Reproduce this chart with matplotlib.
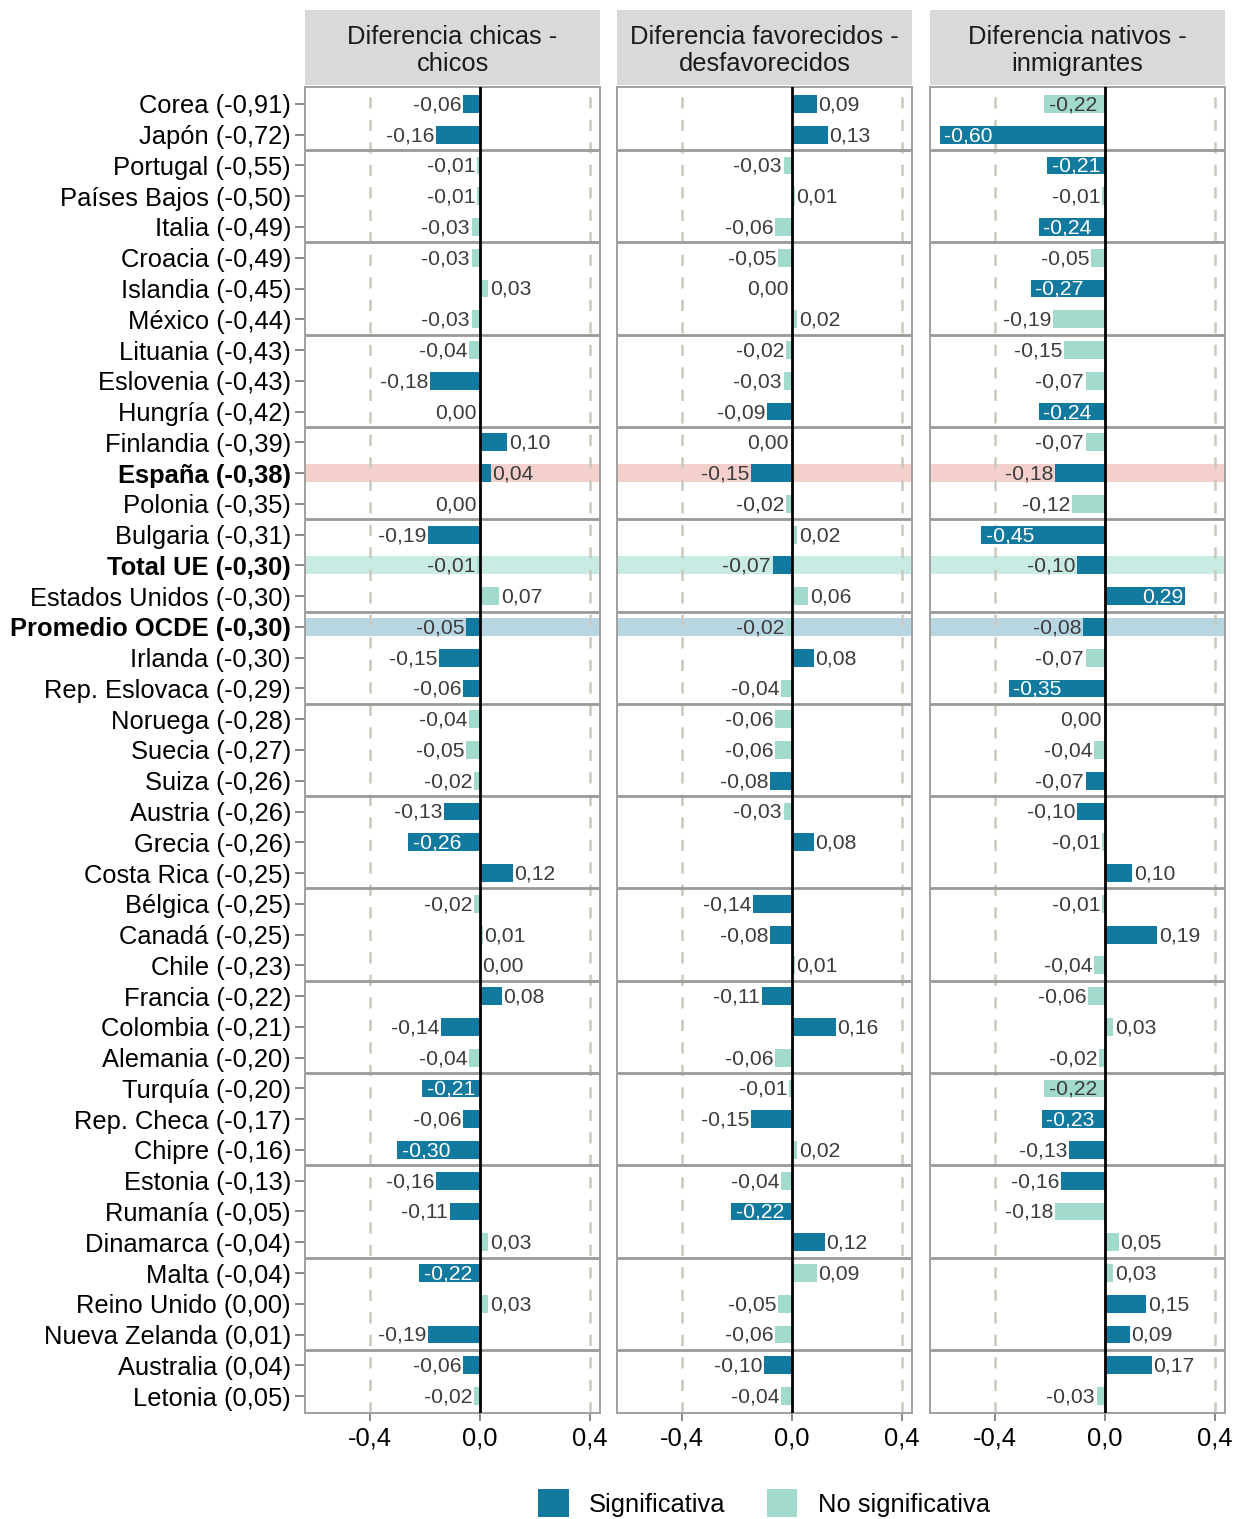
import matplotlib
matplotlib.use('Agg')
import matplotlib.pyplot as plt
from matplotlib.patches import Patch
import numpy as np

plt.rcParams['font.family'] = ['Liberation Sans', 'DejaVu Sans']

# Data
countries = ['Corea (-0,91)', 'Japón (-0,72)', 'Portugal (-0,55)', 'Países Bajos (-0,50)',
             'Italia (-0,49)', 'Croacia (-0,49)', 'Islandia (-0,45)', 'México (-0,44)',
             'Lituania (-0,43)', 'Eslovenia (-0,43)', 'Hungría (-0,42)', 'Finlandia (-0,39)',
             'España (-0,38)', 'Polonia (-0,35)', 'Bulgaria (-0,31)', 'Total UE (-0,30)',
             'Estados Unidos (-0,30)', 'Promedio OCDE (-0,30)', 'Irlanda (-0,30)',
             'Rep. Eslovaca (-0,29)', 'Noruega (-0,28)', 'Suecia (-0,27)', 'Suiza (-0,26)',
             'Austria (-0,26)', 'Grecia (-0,26)', 'Costa Rica (-0,25)', 'Bélgica (-0,25)',
             'Canadá (-0,25)', 'Chile (-0,23)', 'Francia (-0,22)', 'Colombia (-0,21)',
             'Alemania (-0,20)', 'Turquía (-0,20)', 'Rep. Checa (-0,17)', 'Chipre (-0,16)',
             'Estonia (-0,13)', 'Rumanía (-0,05)', 'Dinamarca (-0,04)', 'Malta (-0,04)',
             'Reino Unido (0,00)', 'Nueva Zelanda (0,01)', 'Australia (0,04)', 'Letonia (0,05)']

bold_rows = ['España (-0,38)', 'Total UE (-0,30)', 'Promedio OCDE (-0,30)']
highlight = {'España (-0,38)': '#F4D0CC',
             'Total UE (-0,30)': '#C8ECE4',
             'Promedio OCDE (-0,30)': '#B7D6E1'}

titles = ['Diferencia chicas -\nchicos',
          'Diferencia favorecidos -\ndesfavorecidos',
          'Diferencia nativos -\ninmigrantes']

gender = [-0.06, -0.16, -0.01, -0.01, -0.03, -0.03, 0.03, -0.03, -0.04, -0.18, -0.004,
          0.10, 0.04, -0.004, -0.19, -0.01, 0.07, -0.05, -0.15, -0.06, -0.04, -0.05,
          -0.02, -0.13, -0.26, 0.12, -0.02, 0.01, 0.004, 0.08, -0.14, -0.04, -0.21,
          -0.06, -0.30, -0.16, -0.11, 0.03, -0.22, 0.03, -0.19, -0.06, -0.02]
gender_sig = [1, 1, 0, 0, 0, 0, 0, 0, 0, 1, 0, 1, 1, 0, 1, 0, 0, 1, 1, 1, 0, 0, 0, 1, 1,
              1, 0, 0, 0, 1, 1, 0, 1, 1, 1, 1, 1, 0, 1, 0, 1, 1, 0]

ses = [0.09, 0.13, -0.03, 0.01, -0.06, -0.05, -0.004, 0.02, -0.02, -0.03, -0.09, -0.004,
       -0.15, -0.02, 0.02, -0.07, 0.06, -0.02, 0.08, -0.04, -0.06, -0.06, -0.08, -0.03,
       0.08, np.nan, -0.14, -0.08, 0.01, -0.11, 0.16, -0.06, -0.01, -0.15, 0.02, -0.04,
       -0.22, 0.12, 0.09, -0.05, -0.06, -0.10, -0.04]
ses_sig = [1, 1, 0, 0, 0, 0, 0, 0, 0, 0, 1, 0, 1, 0, 0, 1, 0, 0, 1, 0, 0, 0, 1, 0, 1, 0,
           1, 1, 0, 1, 1, 0, 0, 1, 0, 0, 1, 1, 0, 0, 0, 1, 0]

immig = [-0.22, -0.60, -0.21, -0.01, -0.24, -0.05, -0.27, -0.19, -0.15, -0.07, -0.24,
         -0.07, -0.18, -0.12, -0.45, -0.10, 0.29, -0.08, -0.07, -0.35, -0.004, -0.04,
         -0.07, -0.10, -0.01, 0.10, -0.01, 0.19, -0.04, -0.06, 0.03, -0.02, -0.22, -0.23,
         -0.13, -0.16, -0.18, 0.05, 0.03, 0.15, 0.09, 0.17, -0.03]
immig_sig = [0, 1, 1, 0, 1, 0, 1, 0, 0, 0, 1, 0, 1, 0, 1, 1, 1, 1, 0, 1, 0, 0, 1, 1, 0, 1,
             0, 1, 0, 0, 0, 0, 0, 1, 1, 1, 0, 0, 0, 1, 1, 1, 0]

panels = [(gender, gender_sig), (ses, ses_sig), (immig, immig_sig)]

col_sig = '#137A9F'
col_ns = '#A2DBCD'
txt_col = '#3C3C3C'


def fmt(v):
    s = '%.2f' % v
    if s == '-0.00':
        s = '0.00'
    return s.replace('.', ',')


W, H = 1240, 1519
fig = plt.figure(figsize=(W / 100, H / 100), dpi=100)

lefts = [305, 617, 930]
pw = 295
top, bottom = 87, 1413
n = len(countries)
y = np.arange(n)
lab_fs = 15.2

for k, (vals, sig) in enumerate(panels):
    ax = fig.add_axes([lefts[k] / W, (H - bottom) / H, pw / W, (bottom - top) / H])
    ax.set_xlim(-0.636, 0.437)
    ax.set_ylim(n - 0.45, -0.55)

    # highlighted rows
    for name, c in highlight.items():
        i = countries.index(name)
        ax.axhspan(i - 0.29, i + 0.29, color=c, zorder=0.5, lw=0)

    # grid
    for gx in [-0.4, 0.4]:
        ax.axvline(gx, color='#C9C9BC', lw=1.8, ls=(0, (4.5, 4.5)), zorder=0.8)

    # group separators
    for sep in range(2, n - 1, 3):
        ax.axhline(sep - 0.5, color='#999999', lw=2, zorder=1)

    colors = [col_sig if s else col_ns for s in sig]
    ax.barh(y, vals, height=0.58, color=colors, zorder=2)
    ax.axvline(0, color='black', lw=2, zorder=3)

    for i, (v, s) in enumerate(zip(vals, sig)):
        if np.isnan(v):
            continue
        lab = fmt(v)
        if abs(v) >= 0.195:
            c = 'white' if s else txt_col
            if v < 0:
                ax.text(v + 0.016, i + 0.03, lab, ha='left', va='center', fontsize=lab_fs,
                        color=c, zorder=4)
            else:
                ax.text(v - 0.006, i + 0.03, lab, ha='right', va='center', fontsize=lab_fs,
                        color=c, zorder=4)
        elif v < 0:
            ax.text(v - 0.006, i + 0.03, lab, ha='right', va='center', fontsize=lab_fs,
                    color=txt_col, zorder=4)
        else:
            ax.text(v + 0.006, i + 0.03, lab, ha='left', va='center', fontsize=lab_fs,
                    color=txt_col, zorder=4)

    ax.set_xticks([-0.4, 0.0, 0.4])
    ax.set_xticklabels(['-0,4', '0,0', '0,4'], fontsize=18.4, color='black')
    ax.tick_params(axis='x', length=6, width=1.3, color='#7F7F7F', pad=4)
    ax.set_yticks(y)
    if k == 0:
        ax.set_yticklabels(countries, fontsize=18.4, color='black')
        for lbl in ax.get_yticklabels():
            if lbl.get_text() in bold_rows:
                lbl.set_fontweight('bold')
        ax.tick_params(axis='y', length=7, width=1.3, color='#7F7F7F', pad=3)
    else:
        ax.set_yticklabels([])
        ax.tick_params(axis='y', length=0)
    for sp in ax.spines.values():
        sp.set_color('#A0A0A0')
        sp.set_linewidth(1.4)

    # strip header
    sax = fig.add_axes([lefts[k] / W, (H - 85) / H, pw / W, 75 / H])
    sax.set_facecolor('#D9D9D9')
    sax.set_xticks([])
    sax.set_yticks([])
    for sp in sax.spines.values():
        sp.set_visible(False)
    sax.text(0.5, 0.46, titles[k], ha='center', va='center', fontsize=18.4,
             color='#1A1A1A', linespacing=1.15, transform=sax.transAxes)

handles = [Patch(facecolor=col_sig, label='Significativa'),
           Patch(facecolor=col_ns, label='No significativa')]
fig.legend(handles=handles, loc='center', bbox_to_anchor=(764 / W, (H - 1503) / H),
           ncol=2, frameon=False, fontsize=18.4, handlelength=1.2, handleheight=1.3,
           columnspacing=1.6, handletextpad=0.8)

fig.savefig('out.png', dpi=100)
